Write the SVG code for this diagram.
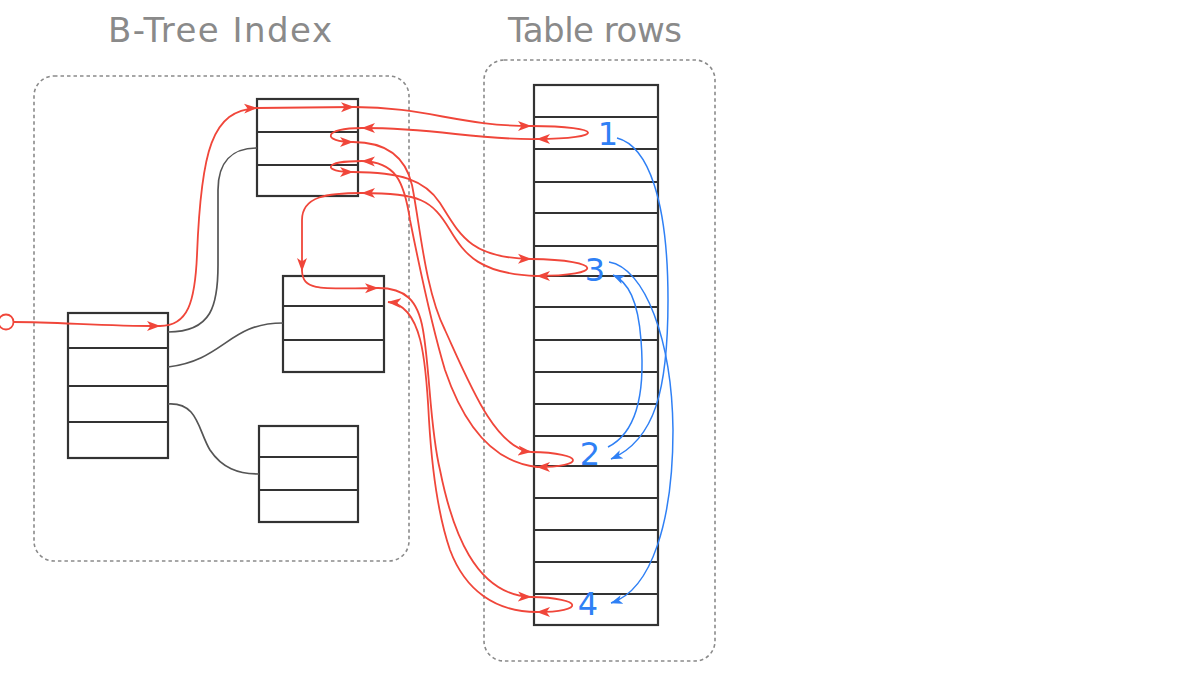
<svg xmlns="http://www.w3.org/2000/svg" width="1190" height="678" viewBox="0 0 1190 678">
<style>
.cont{fill:none;stroke:#8a8a8a;stroke-width:1.6;stroke-dasharray:3.5,3}
.title{font-family:"DejaVu Sans",sans-serif;font-size:34px;fill:#8a8a8a}
.box{fill:#fff;stroke:#333;stroke-width:2.2}
.sep{stroke:#333;stroke-width:2.2}
.gray{fill:none;stroke:#555;stroke-width:1.7}
.red{fill:none;stroke:#f0463a;stroke-width:1.8}
.blue{fill:none;stroke:#2f80f5;stroke-width:1.5}
.num{font-family:"DejaVu Sans",sans-serif;font-size:32px;fill:#2f80f5;text-anchor:middle}
</style>
<defs>
<marker id="ar" viewBox="0 0 14 11" refX="13" refY="5.5" markerWidth="14" markerHeight="11" markerUnits="userSpaceOnUse" orient="auto"><path d="M0,0.5 L13.5,5.5 L0,10.5 L3.5,5.5 z" fill="#f0463a"/></marker>
<marker id="ab" viewBox="0 0 12 10" refX="11.5" refY="5" markerWidth="12" markerHeight="10" markerUnits="userSpaceOnUse" orient="auto"><path d="M0,0.5 L12,5 L0,9.5 L3,5 z" fill="#2f80f5"/></marker>
</defs>

<g id="index-container">
<rect class="cont" x="34" y="76" width="375" height="485" rx="20"/>
<text class="title" x="220" y="42" text-anchor="middle" textLength="224">B-Tree Index</text>
</g>
<g id="table-container">
<rect class="cont" x="484" y="60" width="231" height="601" rx="20"/>
<text class="title" x="595" y="42" text-anchor="middle" textLength="174">Table rows</text>
</g>

<g id="node-root">
<rect class="box" x="68" y="313" width="100" height="145"/>
<line class="sep" x1="68" y1="348" x2="168" y2="348"/>
<line class="sep" x1="68" y1="386" x2="168" y2="386"/>
<line class="sep" x1="68" y1="422" x2="168" y2="422"/>
</g>
<g id="node-leaf1">
<rect class="box" x="257" y="99" width="101" height="97"/>
<line class="sep" x1="257" y1="132" x2="358" y2="132"/>
<line class="sep" x1="257" y1="165" x2="358" y2="165"/>
</g>
<g id="node-leaf2">
<rect class="box" x="283" y="276" width="101" height="96"/>
<line class="sep" x1="283" y1="306" x2="384" y2="306"/>
<line class="sep" x1="283" y1="340" x2="384" y2="340"/>
</g>
<g id="node-leaf3">
<rect class="box" x="259" y="426" width="99" height="96"/>
<line class="sep" x1="259" y1="457" x2="358" y2="457"/>
<line class="sep" x1="259" y1="490" x2="358" y2="490"/>
</g>
<g id="node-table">
<rect class="box" x="534" y="85" width="124" height="540"/>
<g class="sep">
<line x1="534" y1="117" x2="658" y2="117"/>
<line x1="534" y1="149" x2="658" y2="149"/>
<line x1="534" y1="182" x2="658" y2="182"/>
<line x1="534" y1="213" x2="658" y2="213"/>
<line x1="534" y1="246" x2="658" y2="246"/>
<line x1="534" y1="276" x2="658" y2="276"/>
<line x1="534" y1="307" x2="658" y2="307"/>
<line x1="534" y1="340" x2="658" y2="340"/>
<line x1="534" y1="372" x2="658" y2="372"/>
<line x1="534" y1="404" x2="658" y2="404"/>
<line x1="534" y1="436" x2="658" y2="436"/>
<line x1="534" y1="466" x2="658" y2="466"/>
<line x1="534" y1="498" x2="658" y2="498"/>
<line x1="534" y1="530" x2="658" y2="530"/>
<line x1="534" y1="562" x2="658" y2="562"/>
<line x1="534" y1="594" x2="658" y2="594"/>
</g>
<text class="num" x="608" y="145">1</text>
<text class="num" x="595" y="281">3</text>
<text class="num" x="590" y="465">2</text>
<text class="num" x="588" y="615">4</text>
</g>

<g id="connectors">
<g class="gray">
<path d="M168,332 C 212,332 218,305 218,265 L 218,190 C 218,162 232,148 257,148"/>
<path d="M168,367 C 225,360 228,323 283,323"/>
<path d="M168,404 C 198,402 198,430 210,450 C 222,468 238,474 259,474"/>
</g>
<g class="red">
<circle cx="6" cy="322" r="7.5" fill="#fff"/>
<path d="M13.5,322 C 60,322 100,326 160,326" marker-end="url(#ar)"/>
<path d="M160,326 C 188,326 195,302 197,255 C 201,150 212,110 257,108" marker-end="url(#ar)"/>
<path d="M257,108 L 354,107" marker-end="url(#ar)"/>
<path d="M354,107 C 425,107 460,126 531,126" marker-end="url(#ar)"/>
<path d="M531,126 C 606,126 606,139 537,139" marker-end="url(#ar)"/>
<path d="M537,139 C 472,140 440,128 362,128" marker-end="url(#ar)"/>
<path d="M362,128 C 322,128 322,142 353,142" marker-end="url(#ar)"/>
<path d="M353,142 C 385,142 405,155 412,185 C 420,225 425,290 445,330 C 470,385 495,448 531,452" marker-end="url(#ar)"/>
<path d="M531,452 C 586,453 586,467 537,467" marker-end="url(#ar)"/>
<path d="M537,467 C 490,462 462,420 445,370 C 430,320 418,260 410,220 C 404,180 395,162 362,161" marker-end="url(#ar)"/>
<path d="M362,161 C 322,161 322,172 353,172" marker-end="url(#ar)"/>
<path d="M353,172 C 400,172 425,180 440,203 C 460,235 470,258 531,259" marker-end="url(#ar)"/>
<path d="M531,259 C 605,260 605,276 537,276" marker-end="url(#ar)"/>
<path d="M537,276 C 480,274 465,255 450,230 C 432,200 420,193 362,193" marker-end="url(#ar)"/>
<path d="M362,193 C 328,193 302,196 302,220 L 302,271" marker-end="url(#ar)"/>
<path d="M302,271 C 303,291 320,289 378,288" marker-end="url(#ar)"/>
<path d="M378,288 C 405,288 418,300 423,330 C 430,370 430,430 440,470 C 452,530 475,595 531,597" marker-end="url(#ar)"/>
<path d="M531,597 C 585,598 585,612 537,612" marker-end="url(#ar)"/>
<path d="M537,612 C 495,612 465,590 450,550 C 438,515 432,470 429,420 C 426,360 422,305 388,302" marker-end="url(#ar)"/>
</g>
<g class="blue">
<path d="M617,138 C 648,146 668,200 668,300 C 668,390 655,440 611,459" marker-end="url(#ab)"/>
<path d="M608,447 C 638,432 645,390 641,340 C 638,300 628,282 613,275" marker-end="url(#ab)"/>
<path d="M609,262 C 645,268 672,340 673,430 C 673,520 652,590 611,603" marker-end="url(#ab)"/>
</g>
</g>
</svg>
